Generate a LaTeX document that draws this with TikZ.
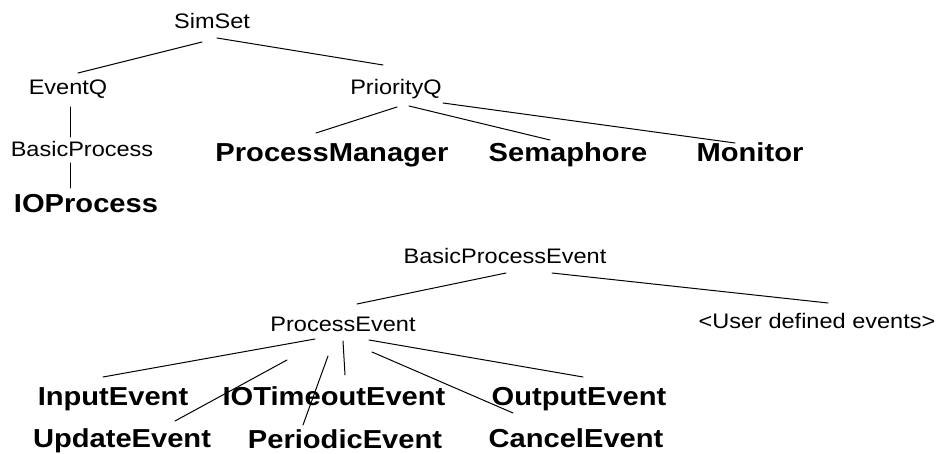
\documentclass[tikz,border=0pt]{standalone}
\usepackage{fontspec}
\setmainfont{Liberation Sans}[FakeStretch=1.12]
\begin{document}
\begin{tikzpicture}[x=1pt,y=-1pt,
  cls/.style={anchor=base,inner sep=0pt,font=\fontsize{21}{24}\selectfont},
  leaf/.style={anchor=base,inner sep=0pt,font=\fontsize{26}{30}\selectfont\bfseries},
  edge/.style={line width=1pt,line cap=round}]
\useasboundingbox (0,0) rectangle (940,454);
% upper tree
\node[cls]  (simset) at (212,29)  {SimSet};
\node[cls]  (eventq) at (68,95)   {EventQ};
\node[cls]  (prioq)  at (396,95)  {PriorityQ};
\node[cls]  (bproc)  at (82,157)  {BasicProcess};
\node[leaf] (ioproc) at (86,213)  {IOProcess};
\node[leaf] (pman)   at (332,162) {ProcessManager};
\node[leaf] (sema)   at (568,162) {Semaphore};
\node[leaf] (moni)   at (750,162) {Monitor};
% lower tree
\node[cls]  (bpe)    at (505,264) {BasicProcessEvent};
\node[cls]  (pe)     at (343,332) {ProcessEvent};
\node[cls]  (user)   at (817,329) {<User defined events>};
\node[leaf] (inev)   at (113,405) {InputEvent};
\node[leaf] (iotev)  at (334,405) {IOTimeoutEvent};
\node[leaf] (outev)  at (579,405) {OutputEvent};
\node[leaf] (upev)   at (122,447) {UpdateEvent};
\node[leaf] (perev)  at (345,448) {PeriodicEvent};
\node[leaf] (canev)  at (576,447) {CancelEvent};
% connector end points
\coordinate (a1) at (202,42);  \coordinate (a2) at (78,73);
\coordinate (b1) at (217,38);  \coordinate (b2) at (383,65);
\coordinate (c1) at (70.7,107); \coordinate (c2) at (70.7,137);
\coordinate (d1) at (70.7,163); \coordinate (d2) at (70.7,188);
\coordinate (e1) at (397,107); \coordinate (e2) at (316,133);
\coordinate (f1) at (409,106); \coordinate (f2) at (550,140);
\coordinate (g1) at (443,103); \coordinate (g2) at (735,143);
\coordinate (h1) at (506,273); \coordinate (h2) at (357,304);
\coordinate (i1) at (552,273); \coordinate (i2) at (828,303);
\coordinate (j1) at (315,339); \coordinate (j2) at (103,377);
\coordinate (k1) at (287,360); \coordinate (k2) at (175,421);
\coordinate (l1) at (328,356); \coordinate (l2) at (303,425);
\coordinate (m1) at (343,341); \coordinate (m2) at (345,375);
\coordinate (n1) at (372,352); \coordinate (n2) at (513,413);
\coordinate (o1) at (369,340); \coordinate (o2) at (583,377);
\draw[edge] (a1) -- (a2); % simset - eventq
\draw[edge] (b1) -- (b2); % simset - prioq
\draw[edge] (c1) -- (c2); % eventq - bproc
\draw[edge] (d1) -- (d2); % bproc - ioproc
\draw[edge] (e1) -- (e2); % prioq - pman
\draw[edge] (f1) -- (f2); % prioq - sema
\draw[edge] (g1) -- (g2); % prioq - moni
\draw[edge] (h1) -- (h2); % bpe - pe
\draw[edge] (i1) -- (i2); % bpe - user
\draw[edge] (j1) -- (j2); % pe - inev
\draw[edge] (k1) -- (k2); % pe - upev
\draw[edge] (l1) -- (l2); % pe - perev
\draw[edge] (m1) -- (m2); % pe - iotev
\draw[edge] (n1) -- (n2); % pe - canev
\draw[edge] (o1) -- (o2); % pe - outev
\end{tikzpicture}
\end{document}
